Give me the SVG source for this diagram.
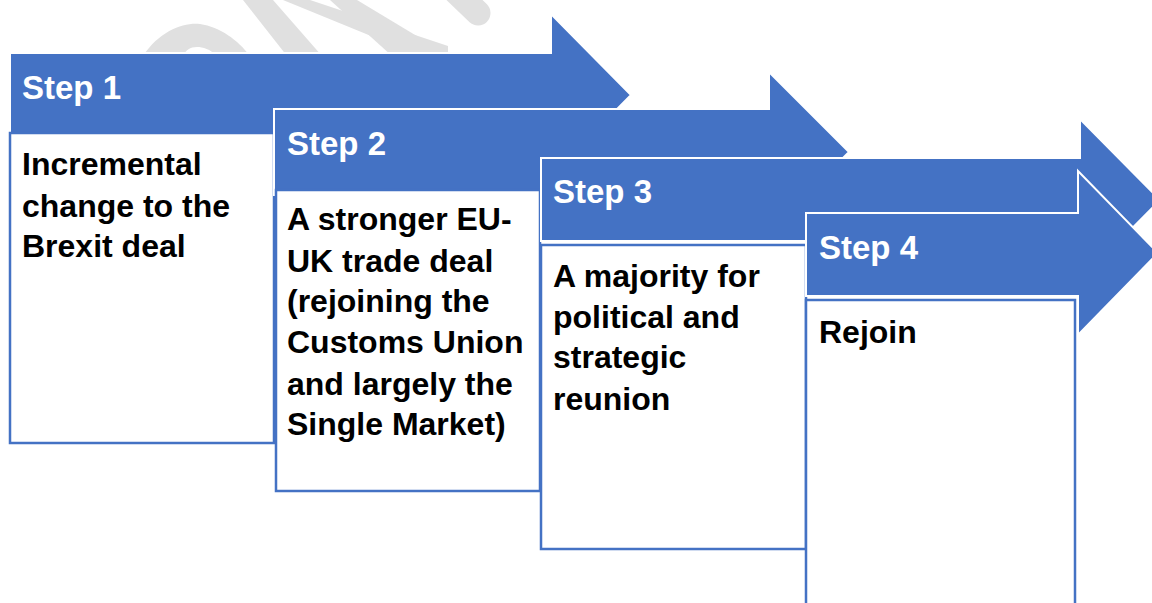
<svg xmlns="http://www.w3.org/2000/svg" width="1152" height="603" viewBox="0 0 1152 603">
<style>
.arrow{fill:#4472C4;stroke:#ffffff;stroke-width:2;stroke-linejoin:miter}
.box{fill:#ffffff;stroke:#4472C4;stroke-width:2.5}
.hdr{font-family:"Liberation Sans",Arial,sans-serif;font-weight:bold;font-size:33px;fill:#ffffff}
.body{font-family:"Liberation Sans",Arial,sans-serif;font-weight:bold;font-size:32px;fill:#000000}
.wm{fill:#e0e0e0}
</style>
<rect width="1152" height="603" fill="#ffffff"/>
<g id="watermark">
<path class="wm" d="M143,56 C160,30 185,22 200,24 C220,27 238,40 250,56 L217,56 C210,49 203,47 197,47 C190,47 186,50 183,56 Z"/>
<polygon class="wm" points="243,0 273,0 322,56 287,56"/>
<polygon class="wm" points="283,0 310,0 448,46 448,56 420,56"/>
<polygon class="wm" points="330,0 357,0 450,56 392,56"/>
<line x1="452" y1="-12" x2="478" y2="13" stroke="#e0e0e0" stroke-width="25" stroke-linecap="round"/>
</g>
<g id="connectors"></g>
<g id="step1">
<polygon class="arrow" points="10,53 551,53 551,14 631,95 551,176 551,137 10,137"/>
<rect class="box" x="10" y="133" width="264" height="310"/>
<text class="hdr" x="22" y="99">Step 1</text>
<text class="body" x="22" y="175">Incremental</text>
<text class="body" x="22" y="217">change to the</text>
<text class="body" x="22" y="257">Brexit deal</text>
</g>
<g id="step2">
<polygon class="arrow" points="274,109 769,109 769,72 849,152 769,232 769,195 274,195"/>
<rect class="box" x="276" y="190" width="264" height="301"/>
<text class="hdr" x="287" y="155">Step 2</text>
<text class="body" x="287" y="230">A stronger EU-</text>
<text class="body" x="287" y="272">UK trade deal</text>
<text class="body" x="287" y="312">(rejoining the</text>
<text class="body" x="287" y="353">Customs Union</text>
<text class="body" x="287" y="395">and largely the</text>
<text class="body" x="287" y="435">Single Market)</text>
</g>
<g id="step3">
<polygon class="arrow" points="541,158 1080,158 1080,119 1160,200 1080,281 1080,241 541,241"/>
<rect class="box" x="541" y="245" width="265" height="304"/>
<text class="hdr" x="553" y="203">Step 3</text>
<text class="body" x="553" y="287">A majority for</text>
<text class="body" x="553" y="328">political and</text>
<text class="body" x="553" y="368">strategic</text>
<text class="body" x="553" y="410">reunion</text>
</g>
<g id="step4">
<polygon class="arrow" points="806,213 1078,213 1078,171 1158,253 1078,335 1078,296 806,296"/>
<rect class="box" x="806" y="300" width="269" height="320"/>
<text class="hdr" x="819" y="259">Step 4</text>
<text class="body" x="819" y="343">Rejoin</text>
</g>
</svg>
